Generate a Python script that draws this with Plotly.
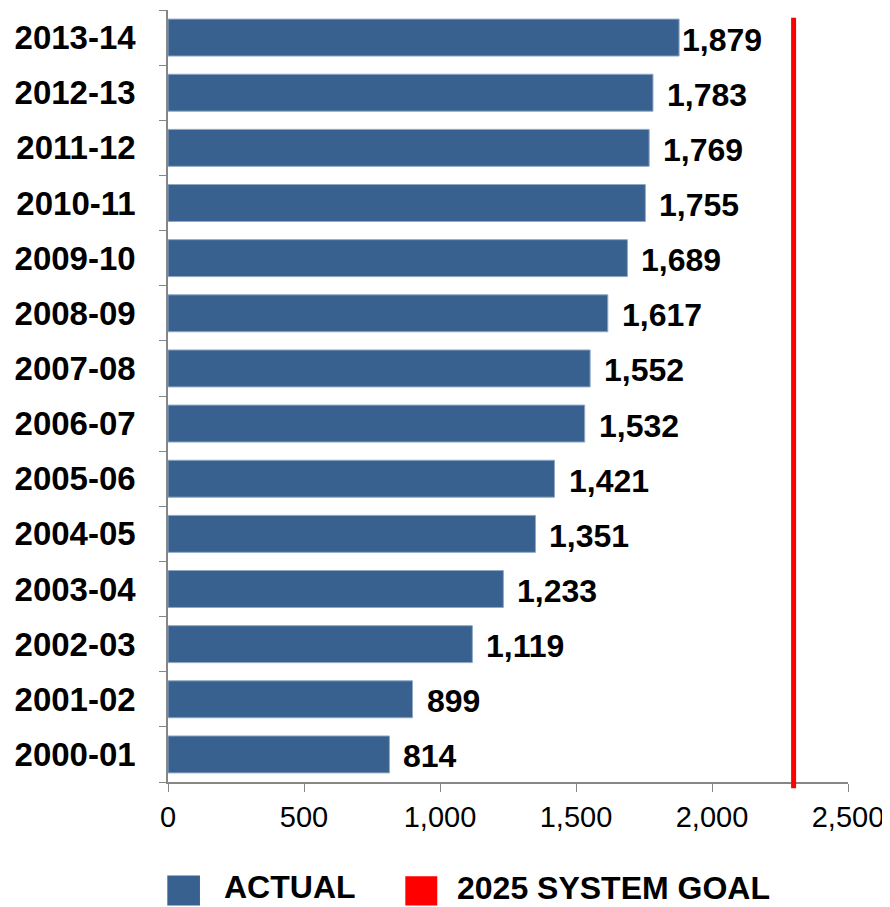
import plotly.graph_objects as go

# Academic years and the actual counts
years = ["2000-01", "2001-02", "2002-03", "2003-04", "2004-05", "2005-06", "2006-07",
         "2007-08", "2008-09", "2009-10", "2010-11", "2011-12", "2012-13", "2013-14"]
actual = [814, 899, 1119, 1233, 1351, 1421, 1532, 1552, 1617, 1689, 1755, 1769, 1783, 1879]
goal = 2300
x_ticks = [0, 500, 1000, 1500, 2000, 2500]

BLUE = "#38618F"
RED = "#FF0000"
FONT = "Liberation Sans, Arial, sans-serif"

fig = go.Figure()
fig.add_trace(go.Bar(
    y=years, x=actual, orientation="h",
    marker=dict(color=BLUE, line=dict(color="#8FA8C6", width=1)),
    width=0.67,
    showlegend=False,
))

# value labels, a little off the bar ends
for yr, v in zip(years, actual):
    fig.add_annotation(x=v, y=yr, text=f"{v:,}", xanchor="left", yanchor="middle",
                       xshift=12 if v < max(actual) else 1, yshift=-2, showarrow=False,
                       font=dict(family=FONT, size=32, color="black", weight="bold"))

# goal line
fig.add_shape(type="line", xref="x", yref="paper", x0=goal, x1=goal, y0=-0.008, y1=0.99,
              line=dict(color=RED, width=5))

# legend drawn by hand so the swatches can be large
fig.add_shape(type="rect", xref="paper", yref="paper", x0=-0.001, x1=0.047, y0=-0.121, y1=-0.160,
              fillcolor=BLUE, line=dict(width=0))
fig.add_shape(type="rect", xref="paper", yref="paper", x0=0.349, x1=0.396, y0=-0.122, y1=-0.160,
              fillcolor=RED, line=dict(width=0))
fig.add_annotation(text="ACTUAL", xref="paper", yref="paper", x=0.079, y=-0.136,
                   xanchor="left", yanchor="middle", showarrow=False,
                   font=dict(family=FONT, size=32, color="black", weight="bold"))
fig.add_annotation(text="2025 SYSTEM GOAL", xref="paper", yref="paper", x=0.422, y=-0.137,
                   xanchor="left", yanchor="middle", showarrow=False,
                   font=dict(family=FONT, size=32, color="black", weight="bold"))

# page body adds an 8px offset, so the figure is a bit smaller than the window
fig.update_layout(
    width=882, height=899,
    margin=dict(l=160, r=42, t=2, b=125),
    plot_bgcolor="white", paper_bgcolor="white",
    font=dict(family=FONT, color="black"),
    bargap=0.33,
)
fig.update_yaxes(type="category", categoryorder="array", categoryarray=years,
                 tickson="boundaries", ticks="outside", ticklen=7, tickcolor="#868686",
                 showline=True, linecolor="#868686", linewidth=1.5, showgrid=False,
                 ticklabelstandoff=24, automargin=False,
                 tickfont=dict(family=FONT, size=33, color="black", weight="bold"))
fig.update_xaxes(range=[0, 2500], tickvals=x_ticks, tickformat=",",
                 ticks="outside", ticklen=8, tickcolor="#868686",
                 showline=True, linecolor="#868686", linewidth=1.5, showgrid=False, zeroline=False,
                 automargin=False,
                 tickfont=dict(family=FONT, size=29, color="black"))

fig.write_html("out.html")
